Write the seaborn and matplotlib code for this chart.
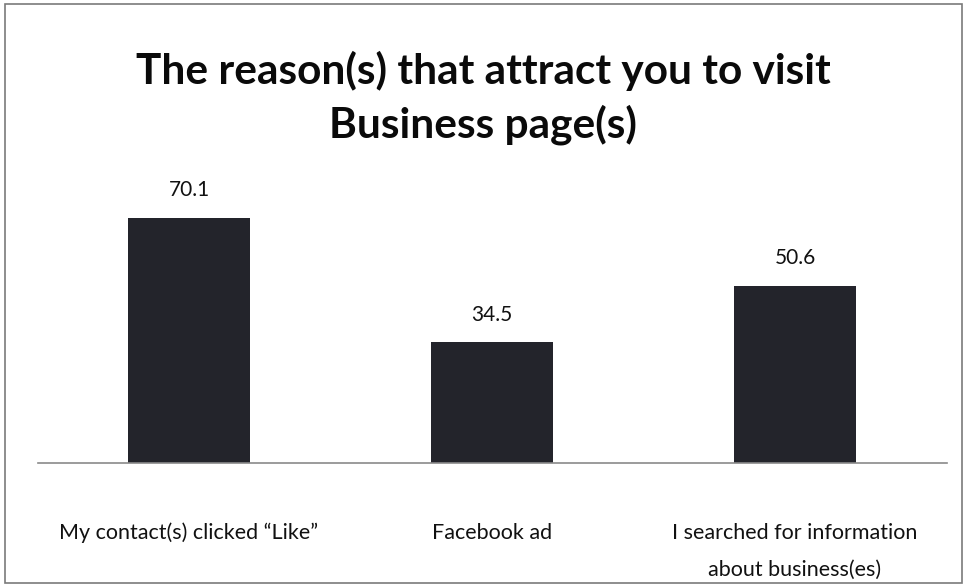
import matplotlib
matplotlib.use("Agg")
import matplotlib.pyplot as plt
import seaborn as sns
import pandas as pd
from matplotlib.patches import Rectangle

categories = ["My contact(s) clicked \u201cLike\u201d", "Facebook ad",
              "I searched for information\nabout business(es)"]
values = [70.1, 34.5, 50.6]
title_text = "The reason(s) that attract you to visit\nBusiness page(s)"

sns.set_theme(style="white")
plt.rcParams["font.family"] = ["Lato", "DejaVu Sans"]

df = pd.DataFrame({"reason": categories, "pct": values})

fig = plt.figure(figsize=(9.66, 5.87), dpi=100)
ax = fig.add_axes([37.5 / 966, (587 - 463) / 587, 909 / 966, 280 / 587])

sns.barplot(data=df, x="reason", y="pct", color="#23242b", width=0.4,
            saturation=1, ax=ax, edgecolor="none")

ax.set_xlim(-0.5, 2.5)
ax.set_ylim(0, 80)
ax.set_xlabel("")
ax.set_ylabel("")
ax.set_yticks([])
ax.tick_params(axis="x", length=0, pad=43, labelsize=15.5, colors="#111111")
for lbl in ax.get_xticklabels():
    lbl.set_linespacing(2.1)
for side in ("top", "right", "left"):
    ax.spines[side].set_visible(False)
ax.spines["bottom"].set_color("#8a8a8a")
ax.spines["bottom"].set_linewidth(1.2)

for i, v in enumerate(values):
    ax.text(i, v + 5, f"{v:.1f}", ha="center", va="bottom",
            fontsize=15, color="#111111")

fig.text(0.5, 1 - 98 / 587, title_text, ha="center", va="center",
         fontsize=30.5, fontweight="bold", color="#0a0a0a", linespacing=1.38)

# thin frame around the whole chart area
fig.patches.append(Rectangle((5 / 966, 4 / 587), 957 / 966, 579 / 587,
                             transform=fig.transFigure, fill=False,
                             edgecolor="#7a7a7a", linewidth=1.2))

fig.savefig("out.png", dpi=100, facecolor="white")
